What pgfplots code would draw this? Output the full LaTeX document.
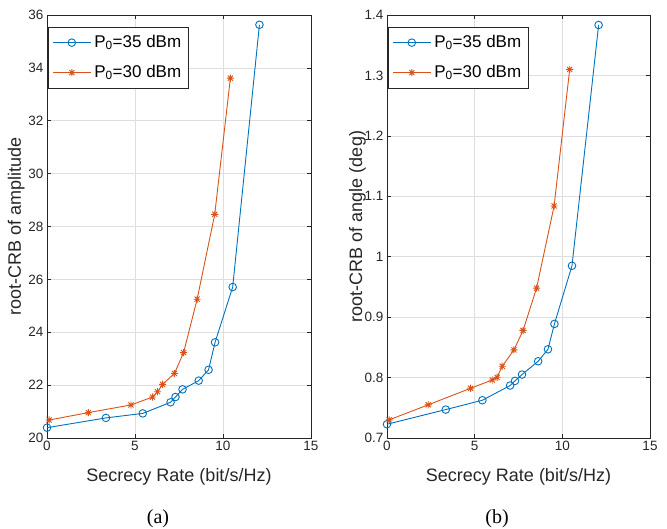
\documentclass[border=0pt]{standalone}
\usepackage{fontspec}
\setmainfont{Liberation Sans}
\newfontfamily\capfont{Liberation Serif}
\usepackage{pgfplots}
\pgfplotsset{compat=1.18}
\definecolor{mblue}{RGB}{0,114,189}
\definecolor{mred}{RGB}{217,83,25}
\definecolor{axgray}{RGB}{38,38,38}
\pgfdeclareplotmark{mstar}{%
  \pgfpathmoveto{\pgfqpoint{0pt}{\pgfplotmarksize}}\pgfpathlineto{\pgfqpoint{0pt}{-\pgfplotmarksize}}%
  \pgfpathmoveto{\pgfqpoint{\pgfplotmarksize}{0pt}}\pgfpathlineto{\pgfqpoint{-\pgfplotmarksize}{0pt}}%
  \pgfpathmoveto{\pgfqpoint{0.707\pgfplotmarksize}{0.707\pgfplotmarksize}}\pgfpathlineto{\pgfqpoint{-0.707\pgfplotmarksize}{-0.707\pgfplotmarksize}}%
  \pgfpathmoveto{\pgfqpoint{0.707\pgfplotmarksize}{-0.707\pgfplotmarksize}}\pgfpathlineto{\pgfqpoint{-0.707\pgfplotmarksize}{0.707\pgfplotmarksize}}%
  \pgfusepathqstroke}
\pgfplotsset{mystyle/.style={
  scale only axis, height=423pt,
  xmin=0, xmax=15, xtick={0,5,10,15},
  grid=major, grid style={draw=black!13, line width=0.6pt},
  axis line style={draw=axgray, line width=0.7pt},
  tick style={draw=axgray, line width=0.7pt},
  major tick length=4pt,
  tick label style={font=\fontsize{13.5}{16}\selectfont, text=axgray},
  /pgf/number format/assume math mode=true,
  label style={font=\fontsize{18}{21}\selectfont, text=axgray},
  xlabel={Secrecy Rate (bit/s/Hz)},
  xlabel style={at={(axis description cs:0.5,-0.1017)}, anchor=base, inner sep=0pt},
  legend style={at={(0.004,0.972)}, anchor=north west, draw=axgray, line width=0.6pt,
    font=\fontsize{17}{20}\selectfont, text=black, inner xsep=4pt, inner ysep=4pt,
    nodes={inner sep=3pt, text height=13pt, text depth=4pt}, row sep=7pt},
  legend cell align=left,
  legend image code/.code={\draw[mark repeat=2,mark phase=2] plot coordinates {(0pt,0pt) (19pt,0pt) (38pt,0pt)};},
  every axis plot/.append style={line width=0.9pt},
}}
\begin{document}
\begin{tikzpicture}
\useasboundingbox (0,0) rectangle (667pt,-529pt);
\begin{axis}[mystyle, at={(47pt,-438pt)}, anchor=south west, width=264pt,
  ymin=20, ymax=36, ytick={20,22,24,26,28,30,32,34,36},
  ylabel={root-CRB of amplitude},
  ylabel style={at={(axis description cs:-0.117,0.5)}, anchor=center}]
\addplot[color=mblue, mark=o, mark size=3.8pt, mark options={solid}] coordinates {
(0,20.39) (3.35,20.76) (5.44,20.93) (7.02,21.35) (7.30,21.55) (7.70,21.84) (8.62,22.17) (9.18,22.58) (9.55,23.62) (10.55,25.71) (12.07,35.63)};
\addlegendentry{P\textsubscript{0}=35 dBm}
\addplot[color=mred, mark=mstar, mark size=3.6pt, mark options={solid}] coordinates {
(0.12,20.68) (2.35,20.96) (4.77,21.25) (6.00,21.55) (6.28,21.75) (6.57,22.03) (7.24,22.44) (7.76,23.23) (8.53,25.25) (9.53,28.46) (10.42,33.61)};
\addlegendentry{P\textsubscript{0}=30 dBm}
\end{axis}
\begin{axis}[mystyle, at={(387pt,-438pt)}, anchor=south west, width=263pt,
  ymin=0.7, ymax=1.4, ytick={0.7,0.8,0.9,1,1.1,1.2,1.3,1.4},
  yticklabels={0.7,0.8,0.9,1,1.1,1.2,1.3,1.4},
  ylabel={root-CRB of angle (deg)},
  ylabel style={at={(axis description cs:-0.112,0.5)}, anchor=center}]
\addplot[color=mblue, mark=o, mark size=3.8pt, mark options={solid}] coordinates {
(0,0.7228) (3.35,0.747) (5.44,0.7625) (7.02,0.7868) (7.30,0.7945) (7.70,0.805) (8.62,0.827) (9.18,0.8468) (9.55,0.8888) (10.55,0.985) (12.07,1.3835)};
\addlegendentry{P\textsubscript{0}=35 dBm}
\addplot[color=mred, mark=mstar, mark size=3.6pt, mark options={solid}] coordinates {
(0.12,0.730) (2.35,0.7549) (4.77,0.7823) (6.00,0.796) (6.28,0.8005) (6.57,0.8187) (7.24,0.8458) (7.76,0.878) (8.53,0.948) (9.53,1.084) (10.42,1.31)};
\addlegendentry{P\textsubscript{0}=30 dBm}
\end{axis}
\node[font=\capfont\fontsize{20}{24}\selectfont, anchor=base] at (158pt,-523pt) {(a)};
\node[font=\capfont\fontsize{20}{24}\selectfont, anchor=base] at (497pt,-523pt) {(b)};
\end{tikzpicture}
\end{document}
